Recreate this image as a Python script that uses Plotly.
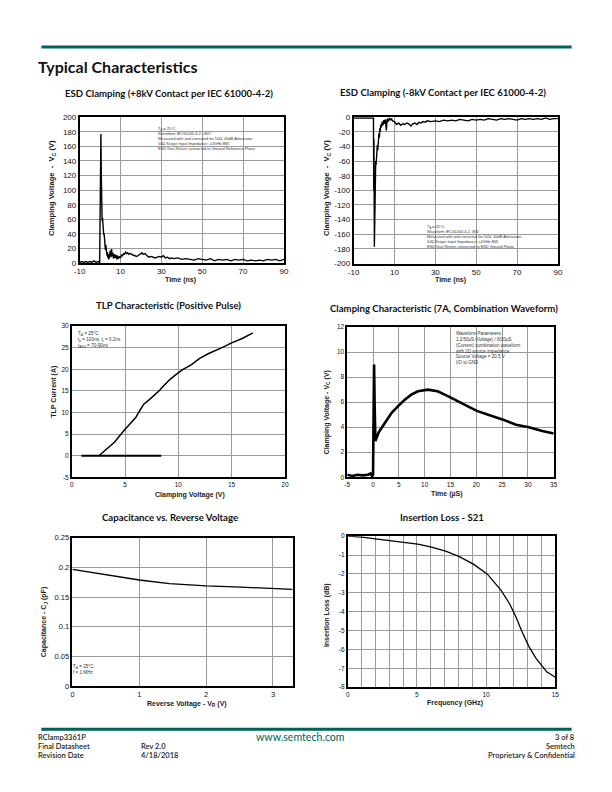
import plotly.graph_objects as go

W, H = 612, 792

# ---------------- data ----------------
# ESD +8kV
esd_pos_t = [-10, -9, -8, -7, -6, -5, -4, -3, -2, -1, -0.2, 0.1, 0.4, 0.6, 0.8, 1.0, 1.2, 1.4, 1.6, 1.8,
             2.0, 2.2, 2.4, 2.6, 2.8, 3.0, 3.2, 3.4, 3.6, 3.8, 4.0, 4.3, 4.6, 5.0, 5.3, 5.6, 6.0, 6.3, 6.6,
             7.0, 7.4, 7.8, 8.2, 8.6, 9.0, 9.5, 10, 10.5, 11, 11.5, 12, 12.5, 13, 13.5, 14, 15, 16, 17, 18,
             19, 20, 20.5, 21, 22, 23, 24, 25, 26, 27, 28, 29, 30, 31, 32, 33, 34, 35, 36, 38, 40, 42, 44,
             46, 48, 50, 52, 54, 56, 58, 60, 62, 64, 66, 68, 70, 72, 74, 76, 78, 80, 82, 84, 86, 88, 90]
esd_pos_v = [1, 2, 1, 2, 1, 2, 1, 3, 1, 2, 1, 60, 177, 120, 70, 58, 62, 45, 48, 38,
             40, 30, 33, 18, 25, 14, 20, 10, 15, 7, 12, 5, 10, 17, 8, 19, 9, 14, 6,
             12, 7, 11, 5, 10, 6, 9, 7, 11, 10, 13, 12, 15, 13, 14, 12, 13, 11, 10, 9,
             11, 13, 14, 12, 13, 10, 8, 9, 8, 7, 8, 9, 8, 10, 7, 8, 6, 7, 6, 7, 5, 6, 5,
             4, 6, 5, 4, 6, 3, 5, 4, 5, 3, 5, 4, 5, 3, 4, 3, 4, 3, 5, 4, 5, 3, 5]

# ESD -8kV
esd_neg_t = [-10, -8, -6, -4, -2, -0.5, -0.3, -0.15, -0.05, 0.15, 0.4, 0.6, 0.8, 1.0, 1.2, 1.4, 1.6, 1.8, 2.0, 2.2,
             2.4, 2.6, 2.8, 3.0, 3.3, 3.6, 4.0, 4.4, 4.8, 5.2, 5.6, 6.0, 6.3, 6.6, 7.0, 7.5, 8, 8.5, 9, 10,
             11, 12, 13, 14, 15, 16, 17, 18, 19, 20, 21, 22, 23, 24, 25, 26, 28, 30, 32, 34, 36, 38, 40,
             42, 44, 46, 48, 50, 52, 54, 56, 58, 60, 62, 64, 66, 68, 70, 72, 74, 76, 78, 80, 82, 84, 86, 88, 90]
esd_neg_v = [-1, -1, -1, -1, -1, -1, -1, -100, -30, -177, -120, -70, -60, -65, -48, -52, -38, -45, -32, -38,
             -22, -28, -15, -20, -10, -14, -6, -11, -4, -9, -3, -18, -7, -2, -6, -1, -4, -2, -5, -6,
             -10, -8, -11, -9, -10, -8, -9, -12, -9, -8, -10, -7, -8, -6, -7, -5, -6, -5, -6, -4, -5, -4, -5,
             -3, -4, -5, -3, -4, -3, -4, -2, -3, -4, -2, -3, -2, -3, -4, -2, -3, -2, -3, -2, -3, -1, -3, -2, -2]

# TLP
tlp_base_v = [0.9, 2.0, 2.6, 3.0, 3.5, 4.0, 5.0, 6.0, 7.0, 8.4]
tlp_base_i = [0.0, 0.0, 0.05, 0.15, 0.1, 0.1, 0.05, 0.05, 0.0, 0.0]
tlp_v = [2.6, 3.3, 4.0, 4.9, 5.5, 6.0, 6.3, 6.75, 7.2, 7.67, 8.2, 8.6, 9.2, 9.8, 10.4, 11.2, 12.0,
         12.9, 13.5, 14.1, 15.0, 16.0, 17.0]
tlp_i = [0.1, 1.6, 3.1, 5.8, 7.3, 8.8, 10.1, 11.9, 12.8, 13.8, 15.0, 16.1, 17.6, 18.8, 19.9, 21.0, 22.5,
         23.7, 24.3, 25.0, 26.1, 27.1, 28.4]

# Clamping 7A combination waveform
cw_t = [-5, -4, -3, -2, -1, -0.5, -0.2, 0.0, 0.1, 0.2, 0.3, 0.4, 0.45, 1.1, 2.35, 3.6, 4.9, 6.15, 7.4, 8.7,
        10.6, 12.5, 14.4, 16.3, 18.2, 20.1, 22.6, 25.2, 27.7, 30.2, 32.8, 35]
cw_v = [0.2, 0.1, 0.2, 0.15, 0.2, 0.3, 0.1, 0.2, 5.0, 9.0, 6.0, 3.2, 2.9, 3.6, 4.4, 5.15, 5.7, 6.2, 6.6, 6.87,
        7.0, 6.87, 6.5, 6.1, 5.7, 5.3, 4.95, 4.6, 4.2, 4.0, 3.7, 3.5]

# Capacitance
cap_v = [0, 0.47, 1.0, 1.45, 2.0, 2.52, 3.0, 3.29]
cap_c = [0.197, 0.189, 0.179, 0.173, 0.169, 0.167, 0.165, 0.163]

# Insertion loss
il_f = [0, 1.04, 2, 3.05, 4.05, 5.06, 6.06, 7.07, 8.07, 9.08, 10.08, 10.6, 11.1, 11.7, 12.16, 12.6,
        13.1, 13.6, 14.05, 14.4, 14.64, 15]
il_db = [0, -0.05, -0.14, -0.23, -0.31, -0.42, -0.58, -0.79, -1.08, -1.48, -2.0, -2.45, -2.88, -3.58,
         -4.28, -5.07, -5.85, -6.46, -6.9, -7.2, -7.3, -7.48]

titles = ["ESD Clamping (+8kV Contact per IEC 61000-4-2)",
          "ESD Clamping (-8kV Contact per IEC 61000-4-2)",
          "TLP Characteristic (Positive Pulse)",
          "Clamping Characteristic (7A, Combination Waveform)",
          "Capacitance vs. Reverse Voltage",
          "Insertion Loss - S21"]

# tick values / labels
esd_x_ticks = [-10, 10, 30, 50, 70, 90]
esd_pos_y_ticks = list(range(0, 201, 20))
esd_neg_y_ticks = list(range(-200, 1, 20))
tlp_x_ticks = [0, 5, 10, 15, 20]
tlp_y_ticks = [-5, 0, 5, 10, 15, 20, 25, 30]
cw_x_ticks = [-5, 0, 5, 10, 15, 20, 25, 30, 35]
cw_y_ticks = [0, 2, 4, 6, 8, 10, 12]
cap_x_ticks = [0, 1, 2, 3]
cap_y_ticks = [0, 0.05, 0.1, 0.15, 0.2, 0.25]
il_x_ticks = [0, 5, 10, 15]
il_y_ticks = [0, -1, -2, -3, -4, -5, -6, -7, -8]


def lab(v):
    return "%g" % v


# ---------------- helpers ----------------
def px(x):
    return x / W


def py(y):
    return 1 - y / H


GREEN = "#00625A"
TXT = "#1a1a1a"
GRID = "#9a9a9a"
PAD = 5  # annotation box inset compensation for left/right anchored texts

fig = go.Figure()

# axes boxes (left, right, top, bottom) in pixels
boxes = [
    (75, 283, 114.5, 262),
    (354, 562, 114.5, 262.5),
    (67, 284, 325.7, 478.7),
    (347.5, 557.7, 326.7, 478.7),
    (67.7, 292.3, 540, 690),
    (348, 559.3, 538.3, 691),
]

axis_cfg = [
    (dict(range=[-10, 90], tickvals=esd_x_ticks, ticktext=[lab(v) for v in esd_x_ticks]),
     dict(range=[0, 200], tickvals=esd_pos_y_ticks, ticktext=[lab(v) for v in esd_pos_y_ticks]), 8),
    (dict(range=[-10, 90], tickvals=esd_x_ticks, ticktext=[lab(v) for v in esd_x_ticks]),
     dict(range=[-200, 0], tickvals=esd_neg_y_ticks, ticktext=[lab(v) for v in esd_neg_y_ticks]), 8),
    (dict(range=[0, 20], tickvals=tlp_x_ticks, ticktext=[lab(v) for v in tlp_x_ticks]),
     dict(range=[-5, 30], tickvals=tlp_y_ticks, ticktext=[lab(v) for v in tlp_y_ticks]), 6.5),
    (dict(range=[-5, 35], tickvals=cw_x_ticks, ticktext=[lab(v) for v in cw_x_ticks]),
     dict(range=[0, 12], tickvals=cw_y_ticks, ticktext=[lab(v) for v in cw_y_ticks]), 6.5),
    (dict(range=[0, 3.3], tickvals=cap_x_ticks, ticktext=[lab(v) for v in cap_x_ticks]),
     dict(range=[0, 0.25], tickvals=cap_y_ticks, ticktext=[lab(v) for v in cap_y_ticks]), 7.5),
    (dict(range=[0, 15], tickvals=il_x_ticks, ticktext=[lab(v) for v in il_x_ticks],
          minor=dict(dtick=1, tick0=0, showgrid=True, gridcolor=GRID, gridwidth=1, ticks="")),
     dict(range=[-8, 0], tickvals=il_y_ticks, ticktext=[lab(v) for v in il_y_ticks]), 6.5),
]

layout_axes = {}
for i, ((l, r, t, b), (cx, cy, fs)) in enumerate(zip(boxes, axis_cfg)):
    n = "" if i == 0 else str(i + 1)
    common = dict(showline=True, linecolor="black", linewidth=1.6, mirror=True,
                  showgrid=True, gridcolor=GRID, gridwidth=1, zeroline=False,
                  ticks="", tickfont=dict(family="Liberation Sans", size=fs, color="#111"),
                  fixedrange=True)
    layout_axes["xaxis" + n] = dict(common, domain=[px(l), px(r)], anchor="y" + n, **cx)
    layout_axes["yaxis" + n] = dict(common, domain=[py(b), py(t)], anchor="x" + n, **cy)


def add(x, y, idx, width):
    n = "" if idx == 0 else str(idx + 1)
    fig.add_trace(go.Scatter(x=x, y=y, mode="lines", line=dict(color="black", width=width),
                             xaxis="x" + n, yaxis="y" + n, showlegend=False, hoverinfo="skip"))


add(esd_pos_t, esd_pos_v, 0, 1.4)
add(esd_neg_t, esd_neg_v, 1, 1.4)
add(tlp_base_v, tlp_base_i, 2, 2.0)
add(tlp_v, tlp_i, 2, 1.5)
add(cw_t, cw_v, 3, 2.6)
add(cap_v, cap_c, 4, 1.3)
add(il_f, il_db, 5, 1.3)

shapes = []
# header & footer bars
shapes.append(dict(type="rect", xref="paper", yref="paper", x0=px(36), x1=px(576), y0=py(45), y1=py(42),
                   fillcolor=GREEN, line=dict(width=0)))
shapes.append(dict(type="rect", xref="paper", yref="paper", x0=px(36), x1=px(576), y0=py(735), y1=py(732),
                   fillcolor=GREEN, line=dict(width=0)))

# white boxes behind in-plot notes (hide grid)
note_boxes = [(156, 282, 116, 155), (429, 561, 221, 261.5), (68, 125, 327, 358),
              (458, 557, 328, 371), (68.5, 106, 664, 689)]
for (l, r, t, b) in note_boxes:
    shapes.append(dict(type="rect", xref="paper", yref="paper", x0=px(l), x1=px(r), y0=py(b), y1=py(t),
                       fillcolor="white", line=dict(width=0), layer="between"))

ann = []


def text(x, y, s, size, xanchor="center", bold=False, color=TXT, family="Lato", angle=0, weight=None,
         yanchor="middle"):
    f = dict(family=family, size=size, color=color)
    if weight is not None:
        f["weight"] = weight
    elif bold:
        f["weight"] = "bold"
    if xanchor == "left":
        x -= PAD
    elif xanchor == "right":
        x += PAD
    ann.append(dict(x=px(x), y=py(y), xref="paper", yref="paper", text=s, showarrow=False,
                    xanchor=xanchor, yanchor=yanchor, font=f, textangle=angle, align="left"))


# page title
text(36, 63, "Typical Characteristics", 16, xanchor="left", bold=True, color="#111")

# chart titles
title_pos = [(166, 91), (445, 90), (165, 305), (446, 308), (167, 519), (444, 519)]
for s, (x, y) in zip(titles, title_pos):
    text(x, y, s, 9.6, bold=True, color="#111")

# axis titles
AX = dict(family="Liberation Sans", bold=True, color="#222")
text(178, 279, "Time (ns)", 7, **AX)
text(47, 186, "Clamping Voltage  -  V<sub>C</sub> (V)", 7.6, angle=-90, **AX)
text(453, 279, "Time (ns)", 7, **AX)
text(327, 186, "Clamping Voltage  -  V<sub>C</sub> (V)", 7.6, angle=-90, **AX)
text(187, 497, "Clamping Voltage (V)", 7, **AX)
text(48, 392, "TLP Current (A)", 7, angle=-90, **AX)
text(449, 496, "Time (µS)", 7, **AX)
text(327, 413, "Clamping Voltage - V<sub>C</sub> (V)", 7, angle=-90, **AX)
text(184, 708, "Reverse Voltage - V<sub>R</sub> (V)", 7, **AX)
text(39, 625, "Capacitance - C<sub>J</sub> (pF)", 7, angle=-90, **AX)
text(457, 707, "Frequency (GHz)", 7, **AX)
text(327, 618, "Insertion Loss (dB)", 7, angle=-90, **AX)

# in-plot notes
NOTE = dict(family="Liberation Sans", color="#333")
text(158, 121, "T<sub>A</sub> = 25°C.<br>Waveform IEC61000-4-2 +8kV.<br>Measured with and corrected for 50Ω, 40dB Attenuator."
     "<br>50Ω Scope Input Impedance, ≥2GHz BW.<br>ESD Gun Return connected to Ground Reference Plane.",
     3.9, xanchor="left", yanchor="top", **NOTE)
text(432, 221, "T<sub>A</sub> = 25°C.<br>Waveform IEC61000-4-2 -8kV.<br>Measured with and corrected for 50Ω, 40dB Attenuator."
     "<br>50Ω Scope Input Impedance, ≥2GHz BW.<br>ESD Gun Return connected to ESD Ground Plane.",
     3.9, xanchor="left", yanchor="top", **NOTE)
text(76, 329, "T<sub>A</sub> = 25°C<br>t<sub>p</sub> = 100ns, t<sub>r</sub> = 0.2ns<br>t<sub>AVG</sub> = 70-90ns",
     4.6, xanchor="left", yanchor="top", **NOTE)
text(461, 329, "Waveform Parameters:<br>1.2/50μS (Voltage) / 8/20μS<br>(Current) combination waveform"
     "<br>with 2Ω source impedance.<br>Source Voltage = 20.5 V<br>I/O to GND",
     4.5, xanchor="left", yanchor="top", **NOTE)
text(71, 666, "T<sub>A</sub> = 25°C.<br>f = 1 MHz", 4.6, xanchor="left", yanchor="top", **NOTE)

# footer
FT = dict(family="Lato", color="#222", weight=600)
FS = 7.5
R1, R2, R3 = 741.6, 751.0, 760.4
text(36, R1, "RClamp3361P", FS, xanchor="left", **FT)
text(36, R2, "Final Datasheet", FS, xanchor="left", **FT)
text(36, R3, "Revision Date", FS, xanchor="left", **FT)
text(140, R2, "Rev 2.0", FS, xanchor="left", **FT)
text(140, R3, "4/18/2018", FS, xanchor="left", **FT)
text(576, R1, "3 of 8", FS, xanchor="right", **FT)
text(576, R2, "Semtech", FS, xanchor="right", **FT)
text(576, R3, "Proprietary & Confidential", FS, xanchor="right", **FT)
text(300, 741, "www.semtech.com", 10.6, family="Lato", color=GREEN)

fig.update_layout(width=W, height=H, margin=dict(l=0, r=0, t=0, b=0), paper_bgcolor="white",
                  plot_bgcolor="white", showlegend=False, shapes=shapes, annotations=ann, **layout_axes)

fig.write_html("out.html", config={"displayModeBar": False},
               post_script="document.body.style.margin='0';document.body.style.overflow='hidden';")
